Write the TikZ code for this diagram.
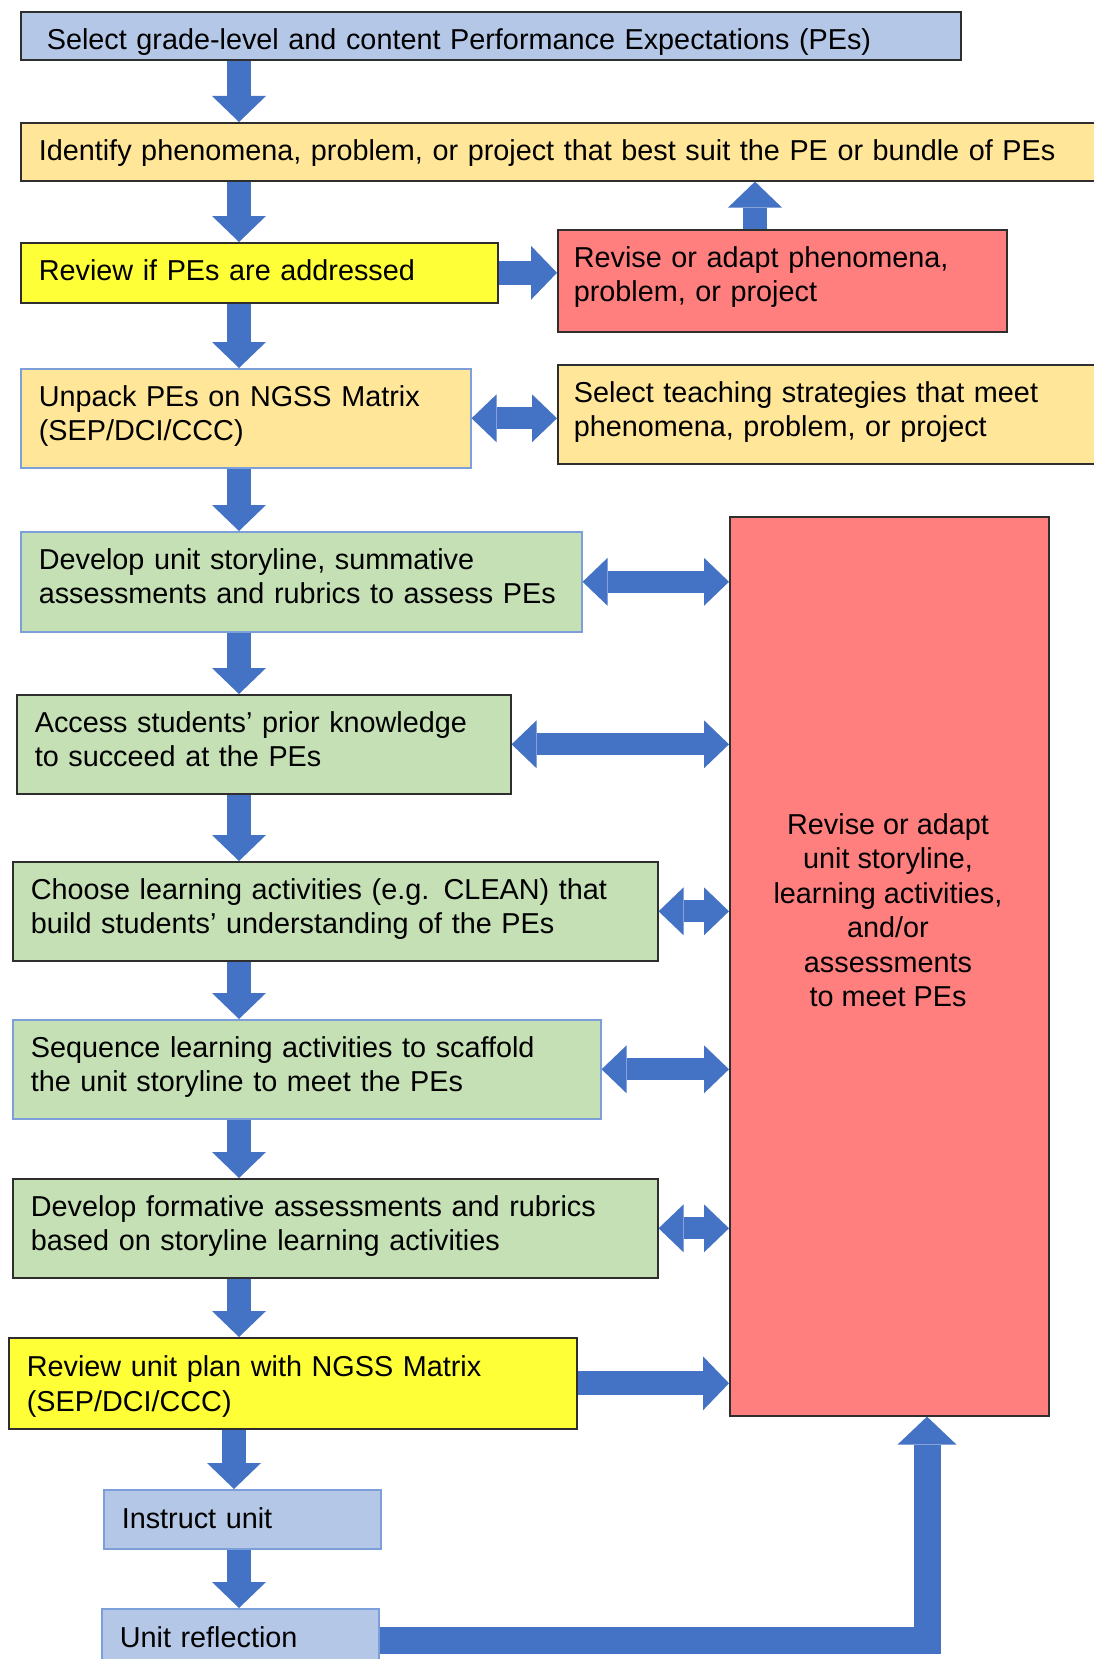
\documentclass[tikz,border=0pt]{standalone}
\usepackage{fontspec}
\setmainfont{Liberation Sans}
\usetikzlibrary{arrows.meta}

\definecolor{stepblue}{HTML}{B4C7E7}
\definecolor{stepgold}{HTML}{FFE699}
\definecolor{stepyellow}{HTML}{FFFF38}
\definecolor{stepred}{HTML}{FF7F7F}
\definecolor{stepgreen}{HTML}{C5E0B4}
\definecolor{flowblue}{HTML}{4472C4}
\definecolor{edgeblue}{HTML}{7C9FDA}
\definecolor{edgedark}{HTML}{2E2E2E}

\tikzset{
  stepbox/.style={draw=edgedark, line width=1.6pt, anchor=north west, align=left,
    inner xsep=18pt, inner ysep=0pt, text height=37.5pt,
    font=\fontsize{28.8}{34.5}\selectfont},
  lightedge/.style={draw=edgeblue},
  flow/.style={draw=flowblue, line width=24pt,
    -{Triangle[length=26pt,width=54pt,line width=0pt]}},
  twoway/.style={draw=flowblue, line width=22pt,
    {Triangle[length=25pt,width=48pt,line width=0pt]}-{Triangle[length=25pt,width=48pt,line width=0pt]}},
}

\begin{document}
\begin{tikzpicture}[x=1pt,y=-1pt]
   \useasboundingbox (0,0) rectangle (1094,1659);

   % Top of the plan
   \node[stepbox, fill=stepblue, inner xsep=26pt, text width=888, text depth=10.5] (select) at (20,11)
      {Select grade-level and content Performance Expectations (PEs)};
   \node[stepbox, fill=stepgold, text width=1064, text depth=20.5] (identify) at (20,122)
      {Identify phenomena, problem, or project that best suit the PE or bundle of PEs};
   \node[stepbox, fill=stepyellow, text width=441, text depth=22.5] (reviewpe) at (20,242)
      {Review if PEs are addressed};
   \node[stepbox, fill=stepred, inner xsep=16pt, text width=417, text depth=64.5] (reviseph) at (557,229)
      {Revise or adapt phenomena,\\problem, or project};
   \node[stepbox, lightedge, fill=stepgold, text width=414, text depth=61.5] (unpack) at (20,368)
      {Unpack PEs on NGSS Matrix\\(SEP/DCI/CCC)};
   \node[stepbox, fill=stepgold, inner xsep=16pt, text width=528, text depth=61.5] (strategies) at (557,364)
      {Select teaching strategies that meet\\phenomena, problem, or project};

   % Unit design steps
   \node[stepbox, lightedge, fill=stepgreen, text width=525, text depth=62.5] (storyline) at (20,531)
      {Develop unit storyline, summative\\assessments and rubrics to assess PEs};
   \node[stepbox, fill=stepgreen, text width=458, text depth=61.5] (prior) at (16,694)
      {Access students’ prior knowledge\\to succeed at the PEs};
   \node[stepbox, fill=stepgreen, text width=609, text depth=61.5] (choose) at (12,861)
      {Choose learning activities (e.g. CLEAN) that\\build students’ understanding of the PEs};
   \node[stepbox, lightedge, fill=stepgreen, text width=552, text depth=61.5] (sequence) at (12,1019)
      {Sequence learning activities to scaffold\\the unit storyline to meet the PEs};
   \node[stepbox, fill=stepgreen, text width=609, text depth=61.5] (formative) at (12,1178)
      {Develop formative assessments and rubrics\\based on storyline learning activities};
   \node[stepbox, fill=stepyellow, text width=532, text height=39, text depth=52] (reviewunit) at (8,1337)
      {Review unit plan with NGSS Matrix\\(SEP/DCI/CCC)};
   \node[stepbox, lightedge, fill=stepblue, text width=241, text height=38.5, text depth=20.5] (instruct) at (103,1489)
      {Instruct unit};
   \node[stepbox, lightedge, fill=stepblue, text width=241, text height=38.5, text depth=23.5] (reflection) at (101,1608)
      {Unit reflection};

   % Big revise box
   \node[stepbox, fill=stepred, text height=0pt, minimum width=319, minimum height=899] (revisebig) at (729,516) {};
   \node[font=\fontsize{28.8}{34.5}\selectfont, align=center] (revisetext) at (888,910)
      {Revise or adapt\\unit storyline,\\learning activities,\\and/or\\assessments\\to meet PEs};

   % Guide lines for the arrows
   \coordinate (mainx) at (239,0);
   \coordinate (upx) at (755,0);
   \coordinate (loopx) at (927,0);
   \coordinate (loopy) at (0,1640);

   % Main flow downwards
   \draw[flow] (select.south -| mainx) -- (identify.north -| mainx);
   \draw[flow] (identify.south -| mainx) -- (reviewpe.north -| mainx);
   \draw[flow] (reviewpe.south -| mainx) -- (unpack.north -| mainx);
   \draw[flow] (unpack.south -| mainx) -- (storyline.north -| mainx);
   \draw[flow] (storyline.south -| mainx) -- (prior.north -| mainx);
   \draw[flow] (prior.south -| mainx) -- (choose.north -| mainx);
   \draw[flow] (choose.south -| mainx) -- (sequence.north -| mainx);
   \draw[flow] (sequence.south -| mainx) -- (formative.north -| mainx);
   \draw[flow] (formative.south -| mainx) -- (reviewunit.north -| mainx);
   \draw[flow] ([xshift=-5pt]reviewunit.south -| mainx) -- ([xshift=-5pt]instruct.north -| mainx);
   \draw[flow] (instruct.south -| mainx) -- (reflection.north -| mainx);

   % Revise loop at the top
   \draw[flow] (reviewpe.east) -- (reviewpe.east -| reviseph.west);
   \draw[flow] (reviseph.north -| upx) -- (identify.south -| upx);
   \draw[twoway] (unpack.east) -- (unpack.east -| strategies.west);

   % Two-way links to the big revise box
   \draw[twoway] (storyline.east) -- (storyline.east -| revisebig.west);
   \draw[twoway] (prior.east) -- (prior.east -| revisebig.west);
   \draw[twoway] (choose.east) -- (choose.east -| revisebig.west);
   \draw[twoway] (sequence.east) -- (sequence.east -| revisebig.west);
   \draw[twoway] (formative.east) -- (formative.east -| revisebig.west);
   \draw[flow] (reviewunit.east) -- (reviewunit.east -| revisebig.west);

   % Reflection back to revising
   \draw[flow, line width=27pt, line join=miter, -{Triangle[length=28pt,width=59pt,line width=0pt]}]
      (reflection.east |- loopy) -| (revisebig.south -| loopx);
\end{tikzpicture}
\end{document}
